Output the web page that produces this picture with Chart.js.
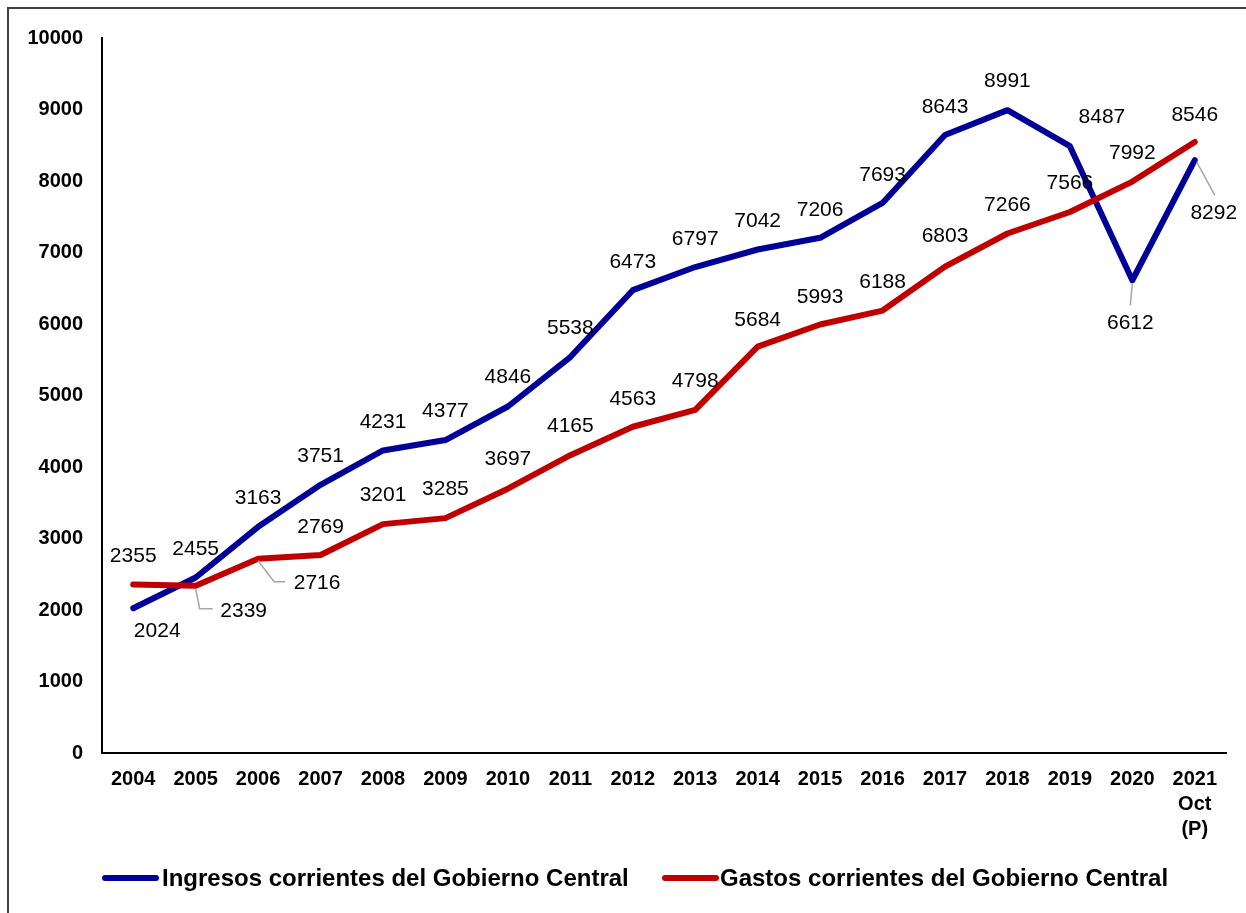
<!DOCTYPE html>
<html><head><meta charset="utf-8">
<script src="https://cdn.jsdelivr.net/npm/chart.js@4/dist/chart.umd.min.js"></script>
<style>html,body{margin:0;padding:0;background:#fff}#wrap{width:1246px;height:913px;position:relative}canvas{display:block}</style>
</head><body><div id="wrap"><canvas id="c" width="1246" height="913"></canvas></div>
<script>
// ---- Data ----
const years = ['2004','2005','2006','2007','2008','2009','2010','2011','2012','2013','2014','2015','2016','2017','2018','2019','2020',['2021','Oct','(P)']];
const ingresos = [2024,2455,3163,3751,4231,4377,4846,5538,6473,6797,7042,7206,7693,8643,8991,8487,6612,8292];
const gastos   = [2355,2339,2716,2769,3201,3285,3697,4165,4563,4798,5684,5993,6188,6803,7266,7566,7992,8546];
const yMin = 0, yMax = 10000, yStep = 1000;
const seriesNames = ['Ingresos corrientes del Gobierno Central','Gastos corrientes del Gobierno Central'];

// ---- Style: label placements (pixel offsets from each point) ----
const ingresosLabelOffsets = [[24,23],[0,-28],[0,-29],[0,-29],[0,-28],[0,-29],[0,-29],[0,-29],[0,-28],[0,-28],[0,-28],[0,-28],[0,-28],[0,-28],[0,-29],[32,-29],[-2,43],[19,53]];
const gastosLabelOffsets   = [[0,-28],[48,25],[59,24],[0,-28],[0,-29],[0,-29],[0,-29],[0,-29],[0,-28],[0,-29],[0,-26],[0,-27],[0,-28],[0,-30],[0,-28],[0,-29],[0,-28],[0,-27]];
// leader lines: list of [dx,dy] vertices relative to point
const ingresosLeaders = {16:[[0,3],[-2,25]], 17:[[2,2],[20,35]]};
const gastosLeaders   = {1:[[0,3],[4,23],[17,23]], 2:[[0,2],[16,23],[27,23]]};

const FONT = '"Liberation Sans", Arial, sans-serif';
const BLUE = '#000099', RED = '#C00000';

const labelsPlugin = {
  id:'labelsPlugin',
  afterDatasetsDraw(chart){
    const ctx = chart.ctx;
    const sets = [
      {meta: chart.getDatasetMeta(0), vals: ingresos, offs: ingresosLabelOffsets, leaders: ingresosLeaders},
      {meta: chart.getDatasetMeta(1), vals: gastos, offs: gastosLabelOffsets, leaders: gastosLeaders}
    ];
    ctx.save();
    sets.forEach(s=>{
      s.meta.data.forEach((pt,i)=>{
        const L = s.leaders[i];
        if (L){
          ctx.beginPath();
          ctx.strokeStyle = '#A6A6A6'; ctx.lineWidth = 1.5;
          L.forEach((v,k)=>{ const x=pt.x+v[0], y=pt.y+v[1]; if(k===0) ctx.moveTo(x,y); else ctx.lineTo(x,y); });
          ctx.stroke();
        }
        ctx.fillStyle = '#000';
        ctx.font = '21px ' + FONT;
        ctx.textAlign = 'center'; ctx.textBaseline = 'middle';
        ctx.fillText(String(s.vals[i]), pt.x + s.offs[i][0], pt.y + s.offs[i][1]);
      });
    });
    ctx.restore();
  },
  afterDraw(chart){
    const ctx = chart.ctx;
    ctx.save();
    // outer frame (extends beyond canvas on right/bottom)
    ctx.strokeStyle = '#404040'; ctx.lineWidth = 2;
    ctx.strokeRect(8, 8, 1260, 930);
    // legend
    const ly = 878;
    const items = [{x1:105,x2:156,color:BLUE,text:seriesNames[0],tx:162},{x1:665,x2:716,color:RED,text:seriesNames[1],tx:720}];
    items.forEach(it=>{
      ctx.beginPath(); ctx.strokeStyle = it.color; ctx.lineWidth = 6; ctx.lineCap = 'round';
      ctx.moveTo(it.x1, ly); ctx.lineTo(it.x2, ly); ctx.stroke();
      ctx.fillStyle = '#000'; ctx.font = 'bold 24px ' + FONT; ctx.textAlign='left'; ctx.textBaseline='middle';
      ctx.fillText(it.text, it.tx, ly+1);
    });
    ctx.restore();
  }
};

new Chart(document.getElementById('c'), {
  type:'line',
  data:{
    labels: years,
    datasets:[
      {label: seriesNames[0], data: ingresos, borderColor: BLUE, borderWidth: 6, pointRadius: 0, tension: 0, borderCapStyle:'round', borderJoinStyle:'round', fill:false, order:2},
      {label: seriesNames[1], data: gastos, borderColor: RED, borderWidth: 6, pointRadius: 0, tension: 0, borderCapStyle:'round', borderJoinStyle:'round', fill:false, order:1}
    ]
  },
  options:{
    responsive:false, animation:false, devicePixelRatio:1,
    layout:{padding:{left:0,right:20,top:38,bottom:0}},
    plugins:{legend:{display:false}, tooltip:{enabled:false}},
    scales:{
      x:{
        offset:true,
        grid:{display:false, drawTicks:false},
        border:{display:true, color:'#000', width:2},
        ticks:{color:'#000', font:{family:FONT, size:20, weight:'bold', lineHeight:1.25}, padding:14, maxRotation:0, autoSkip:false},
        afterFit(s){ s.height = 160; }
      },
      y:{
        min:yMin, max:yMax,
        grid:{display:false, drawTicks:false},
        border:{display:true, color:'#000', width:2},
        ticks:{stepSize:yStep, color:'#000', font:{family:FONT, size:20, weight:'bold'}, padding:19, callback:(v)=>String(v)},
        afterFit(s){ s.width = 102; }
      }
    }
  },
  plugins:[labelsPlugin]
});
</script>
</body></html>
